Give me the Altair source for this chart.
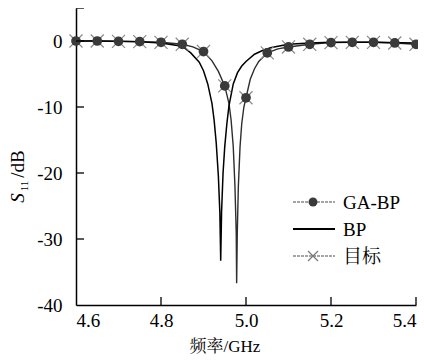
import altair as alt
import pandas as pd

# ---- data ----
marker_freq = [4.60, 4.65, 4.70, 4.75, 4.80, 4.85, 4.90, 4.95, 5.00, 5.05,
               5.10, 5.15, 5.20, 5.25, 5.30, 5.35, 5.40]
ga_bp_s11 = [0.0, 0.0, -0.05, -0.1, -0.2, -0.5, -1.6, -6.8, -8.6, -1.8,
             -0.9, -0.5, -0.25, -0.2, -0.2, -0.3, -0.5]
target_s11 = [0.0, 0.0, -0.05, -0.1, -0.2, -0.5, -1.6, -6.8, -8.6, -1.8,
              -0.9, -0.5, -0.25, -0.2, -0.2, -0.3, -0.5]

curve_freq = [4.60, 4.65, 4.70, 4.75, 4.80, 4.85, 4.875, 4.90, 4.92, 4.935,
              4.95, 4.96, 4.965, 4.97, 4.974, 4.977, 4.978, 4.9795, 4.982,
              4.986, 4.99, 4.995, 5.00, 5.01, 5.02, 5.03, 5.05, 5.075, 5.10,
              5.15, 5.20, 5.25, 5.30, 5.35, 5.40]
curve_s11 = [0.0, 0.0, -0.05, -0.1, -0.2, -0.5, -0.9, -1.6, -3.0, -4.6,
             -6.8, -9.5, -12.0, -16.0, -22.0, -29.0, -36.7, -29.0, -22.0,
             -16.0, -12.5, -10.0, -8.6, -5.8, -4.2, -3.1, -1.8, -1.2, -0.9,
             -0.5, -0.25, -0.2, -0.2, -0.3, -0.5]

bp_freq = [4.60, 4.65, 4.70, 4.75, 4.80, 4.85, 4.87, 4.89, 4.90, 4.91, 4.92,
           4.925, 4.93, 4.935, 4.9385, 4.9405, 4.9425, 4.946, 4.95, 4.955,
           4.96, 4.97, 4.98, 4.99, 5.00, 5.02, 5.04, 5.06, 5.10, 5.15, 5.20,
           5.30, 5.40]
bp_s11 = [0.0, 0.0, -0.05, -0.1, -0.3, -0.8, -1.8, -3.2, -4.5, -6.5, -9.5,
          -12.0, -15.5, -20.5, -26.0, -33.3, -26.0, -20.0, -16.0, -12.5,
          -9.8, -6.5, -4.8, -3.8, -3.1, -2.0, -1.4, -1.0, -0.5, -0.3, -0.2,
          -0.2, -0.3]

x_ticks = [4.8, 5.0, 5.2, 5.4]
y_ticks = [-30, -20, -10, 0, 5]
x_labels = [4.6, 4.8, 5.0, 5.2, 5.4]
y_labels = [-40, -30, -20, -10, 0]

legend_names = ["GA-BP", "BP", "目标"]

SERIF = "'Liberation Serif', 'Times New Roman', Times, serif"
CJK = "'Liberation Serif', 'Times New Roman', 'Noto Serif CJK SC', 'Noto Sans CJK SC', serif"
xs = alt.Scale(domain=[4.6, 5.4], nice=False, zero=False)
ys = alt.Scale(domain=[-40, 5], nice=False, zero=False)

curve_df = pd.DataFrame({"f": curve_freq, "s": curve_s11})
bp_df = pd.DataFrame({"f": bp_freq, "s": bp_s11})
mk_df = pd.DataFrame({"f": marker_freq, "g": ga_bp_s11, "t": target_s11})

xaxis = alt.Axis(values=x_labels, labelExpr="format(datum.value, '.1f')", ticks=False,
                 grid=False, title=None, domainColor="black", domainWidth=1.5,
                 labelFont=SERIF, labelFontSize=19, labelColor="black", labelPadding=6)
yaxis = alt.Axis(values=y_labels, labelExpr="'' + datum.value", ticks=False,
                 grid=False, title=None, domainColor="black", domainWidth=1.5,
                 labelFont=SERIF, labelFontSize=19, labelColor="black", labelPadding=14)

target_line = alt.Chart(curve_df).mark_line(color="#2e2e2e", strokeWidth=1.4).encode(
    x=alt.X("f:Q", scale=xs, axis=xaxis),
    y=alt.Y("s:Q", scale=ys, axis=yaxis),
    order="f:Q",
)
bp_line = alt.Chart(bp_df).mark_line(color="black", strokeWidth=1.5).encode(
    x=alt.X("f:Q", scale=xs), y=alt.Y("s:Q", scale=ys), order="f:Q"
)
xpath = "M -1 -1 L 1 1 M -1 1 L 1 -1"
x_marks = alt.Chart(mk_df).mark_point(shape=xpath, filled=False, color="#8a8a8a",
                                      strokeWidth=1.2, size=170, opacity=1).encode(
    x=alt.X("f:Q", scale=xs), y=alt.Y("t:Q", scale=ys)
)
dots = alt.Chart(mk_df).mark_point(shape="circle", filled=True, color="#3a3a3a",
                                   size=95, opacity=1).encode(
    x=alt.X("f:Q", scale=xs), y=alt.Y("g:Q", scale=ys)
)

H = 297
xt = alt.Chart(pd.DataFrame({"v": x_ticks})).mark_rule(color="black", strokeWidth=1.3).encode(
    x=alt.X("v:Q", scale=xs), y=alt.value(H), y2=alt.value(H - 8)
)
yt = alt.Chart(pd.DataFrame({"v": y_ticks})).mark_rule(color="black", strokeWidth=1.3).encode(
    y=alt.Y("v:Q", scale=ys), x=alt.value(0), x2=alt.value(8)
)

one = pd.DataFrame({"a": [0]})
leg = []
rows_y = [194, 221, 248]
# GA-BP legend
leg.append(alt.Chart(one).mark_rule(color="#888", strokeWidth=1.3, strokeDash=[3, 1]).encode(
    x=alt.value(217), x2=alt.value(259), y=alt.value(rows_y[0])))
leg.append(alt.Chart(one).mark_point(shape="circle", filled=True, color="#3a3a3a", size=80, opacity=1).encode(
    x=alt.value(237), y=alt.value(rows_y[0])))
# BP legend
leg.append(alt.Chart(one).mark_rule(color="black", strokeWidth=1.8).encode(
    x=alt.value(217), x2=alt.value(259), y=alt.value(rows_y[1])))
# target legend
leg.append(alt.Chart(one).mark_rule(color="#888", strokeWidth=1.3, strokeDash=[3, 1]).encode(
    x=alt.value(217), x2=alt.value(259), y=alt.value(rows_y[2])))
leg.append(alt.Chart(one).mark_point(shape=xpath, filled=False, color="#777", strokeWidth=1.2,
                                     size=100, opacity=1).encode(
    x=alt.value(237), y=alt.value(rows_y[2])))
for name, yy in zip(legend_names, rows_y):
    leg.append(alt.Chart(one).mark_text(text=name, font=CJK, fontSize=19,
                                        align="left", baseline="middle", color="black").encode(
        x=alt.value(267), y=alt.value(yy + 1)))

# axis titles
titles = [
    alt.Chart(one).mark_text(text="频率/GHz", font=CJK, fontSize=17,
                             align="center", baseline="middle", color="black").encode(
        x=alt.value(149), y=alt.value(339)),
    alt.Chart(one).mark_text(text="S", font=SERIF, fontStyle="italic", fontSize=19, angle=270,
                             align="center", baseline="middle", color="black").encode(
        x=alt.value(-58), y=alt.value(190)),
    alt.Chart(one).mark_text(text="11", font=SERIF, fontSize=11, angle=270,
                             align="center", baseline="middle", color="black").encode(
        x=alt.value(-51), y=alt.value(178)),
    alt.Chart(one).mark_text(text="/dB", font=SERIF, fontSize=19, angle=270,
                             align="center", baseline="middle", color="black").encode(
        x=alt.value(-58), y=alt.value(156)),
]

chart = alt.layer(target_line, bp_line, x_marks, dots, xt, yt, *leg, *titles).properties(
    width=340, height=H,
    autosize=alt.AutoSizeParams(type="none"),
    padding={"left": 68, "top": 0, "right": 2, "bottom": 50},
).configure_view(stroke=None).configure_axisX(domainColor="black").configure_axisY(domainColor="black")

chart.save("out.html", embed_options={"renderer": "svg", "actions": False})
